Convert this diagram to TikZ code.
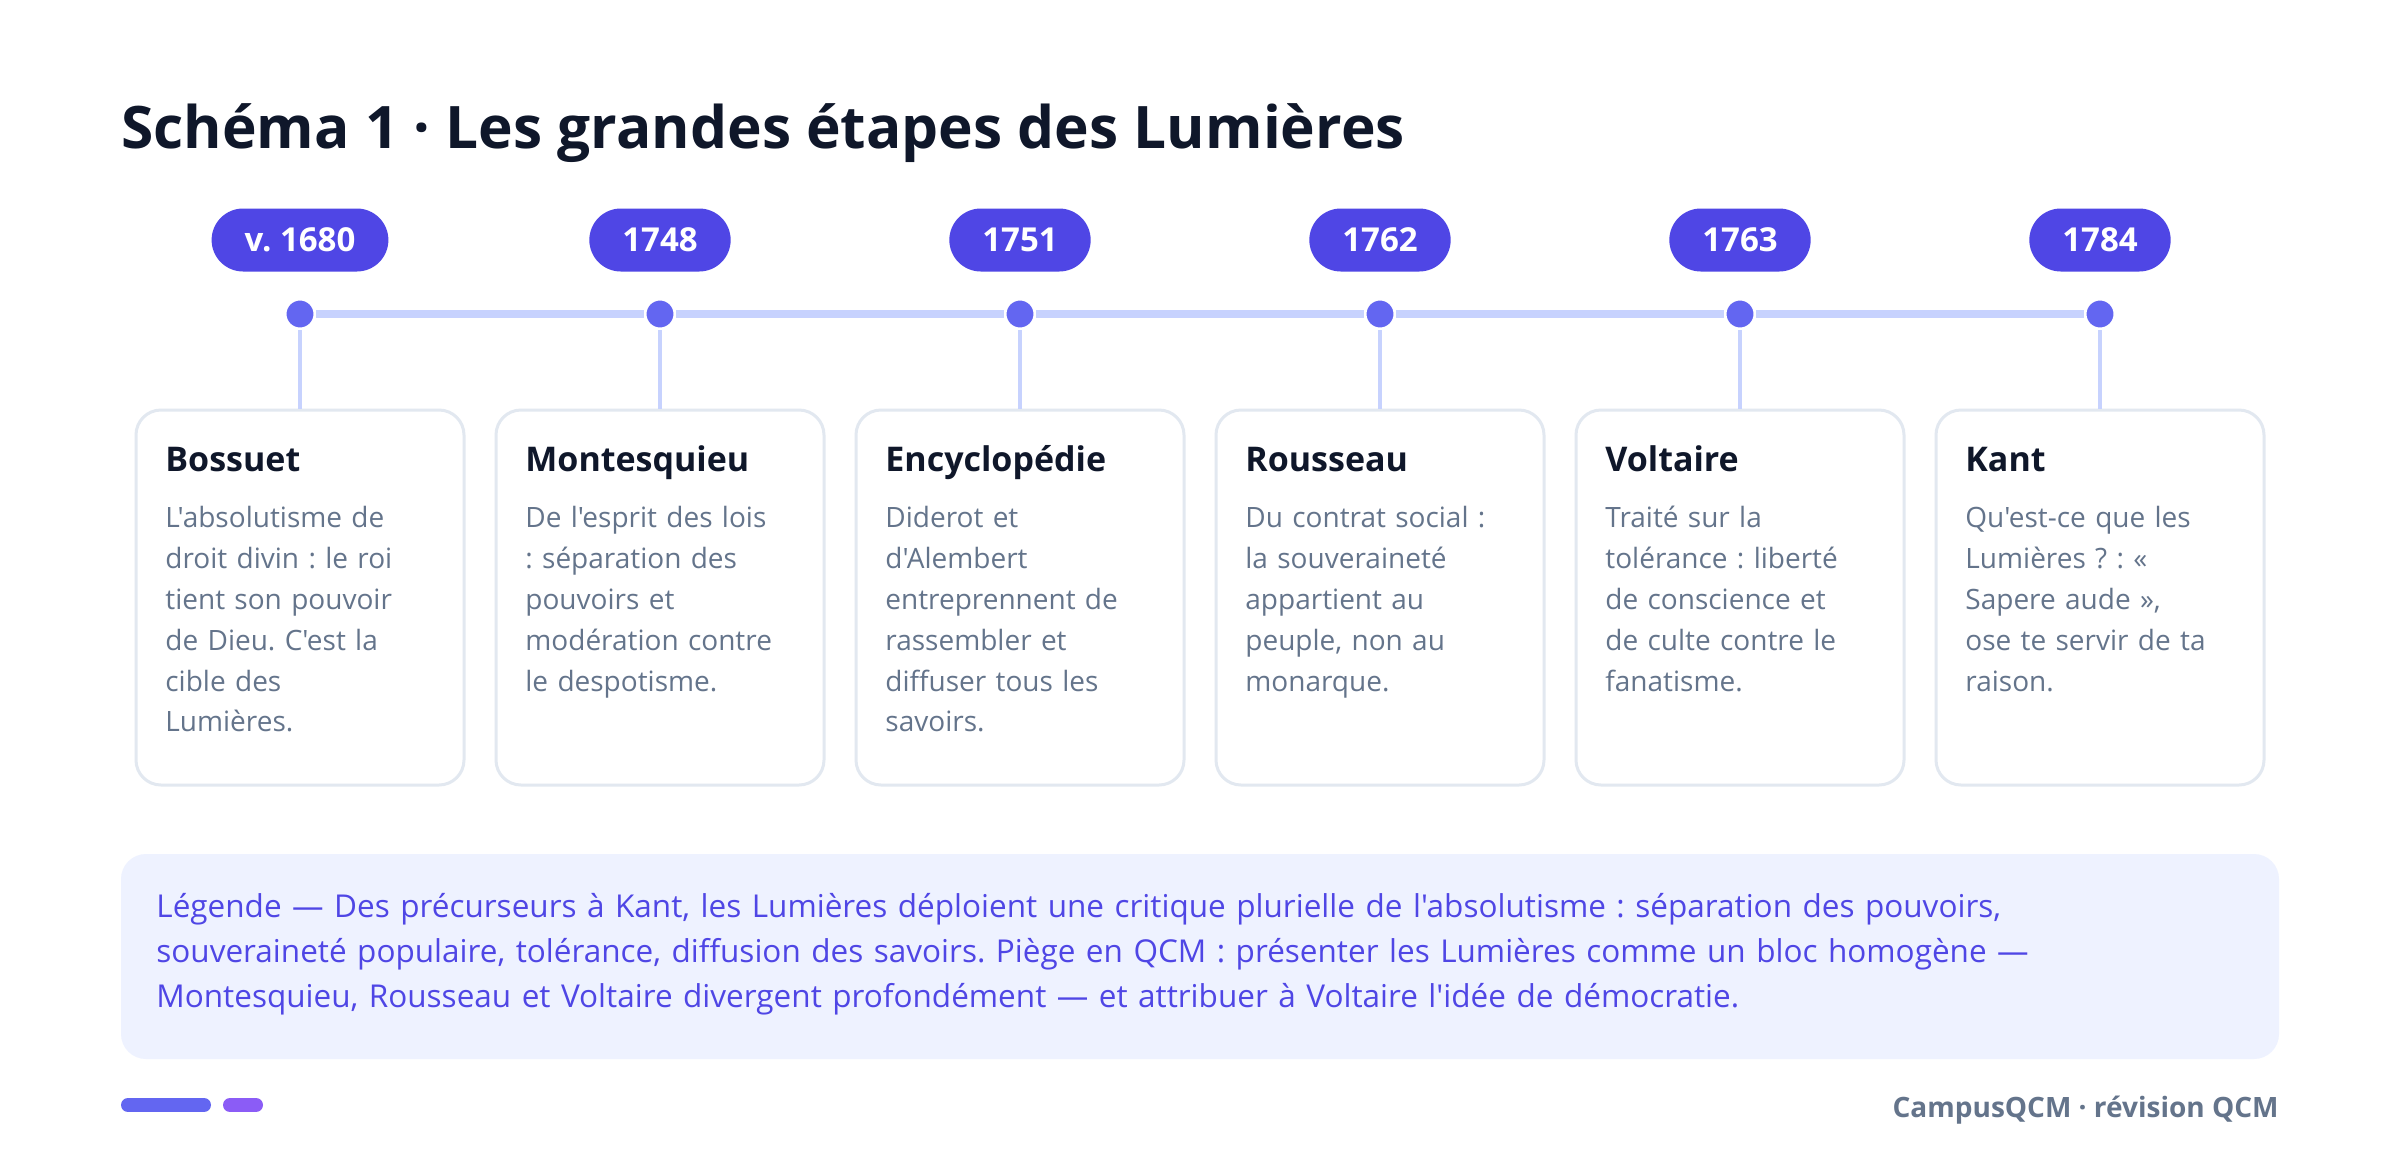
\documentclass[tikz,border=0pt]{standalone}
\usepackage{fontspec}
\setmainfont{Open Sans}[Ligatures=TeXOff]
\frenchspacing
\definecolor{ink}{HTML}{0F172A}
\definecolor{pillc}{HTML}{4F46E5}
\definecolor{dotc}{HTML}{6366F1}
\definecolor{linec}{HTML}{C7D2FE}
\definecolor{cardb}{HTML}{E2E8F0}
\definecolor{bodyc}{HTML}{64748B}
\definecolor{legbg}{HTML}{EEF2FF}
\definecolor{legtx}{HTML}{4F46E5}
\definecolor{barb}{HTML}{8B5CF6}
\begin{document}
\frenchspacing
\begin{tikzpicture}[x=0.5pt,y=-0.5pt,
  pill/.style={fill=pillc, text=white, font=\fontsize{16.5}{19}\selectfont\bfseries,
    rounded corners=15.75pt, minimum height=31.5pt, inner xsep=16.5pt, inner ysep=0pt},
  dot/.style={circle, fill=dotc, draw=white, line width=2.5pt, minimum size=16pt, inner sep=0pt, outer sep=0pt},
  tline/.style={draw=linec, line width=4pt},
  vconn/.style={draw=linec, line width=2pt},
  card/.style={draw=cardb, line width=1.5pt, fill=white, rounded corners=12.5pt,
    minimum width=164pt, minimum height=187.5pt, inner sep=0pt},
  head/.style={anchor=base west, inner sep=0pt, text=ink, font=\fontsize{17}{20}\selectfont\bfseries},
  body/.style={anchor=north west, inner sep=0pt, text=bodyc, align=left, text width=150pt,
    font=\fontsize{14}{20.4}\selectfont},
]
\useasboundingbox (0,0) rectangle (2400,1168);
\fill[white] (0,0) rectangle (2400,1168);

% title
\node[anchor=base west, inner sep=0pt, text=ink, font=\fontsize{29.3}{34}\selectfont\bfseries] (title) at (121,148)
  {Schéma 1 · Les grandes étapes des Lumières};

% pills, dots, cards
\foreach \i/\yr in {1/v. 1680, 2/1748, 3/1751, 4/1762, 5/1763, 6/1784}{
  \pgfmathsetmacro{\cx}{300+360*(\i-1)}
  \node[pill] (p\i) at (\cx,240) {\yr};
  \node[dot] (d\i) at (\cx,314) {};
  \node[card] (c\i) at (\cx,597.5) {};
}
\foreach \a/\b in {1/2,2/3,3/4,4/5,5/6}{
  \draw[tline] (d\a) -- (d\b);
}
\foreach \i in {1,...,6}{
  \draw[vconn] (d\i) -- (c\i.north);
}

% card texts
\node[head] (h1) at (165,471) {Bossuet};
\node[body] (b1) at (165,499) {\strut L'absolutisme de\\droit divin : le roi\\tient son pouvoir\\de Dieu. C'est la\\cible des\\Lumières.};
\node[head] (h2) at (525,471) {Montesquieu};
\node[body] (b2) at (525,499) {\strut De l'esprit des lois\\: séparation des\\pouvoirs et\\modération contre\\le despotisme.};
\node[head] (h3) at (885,471) {Encyclopédie};
\node[body] (b3) at (885,499) {\strut Diderot et\\d'Alembert\\entreprennent de\\rassembler et\\diffuser tous les\\savoirs.};
\node[head] (h4) at (1245,471) {Rousseau};
\node[body] (b4) at (1245,499) {\strut Du contrat social :\\la souveraineté\\appartient au\\peuple, non au\\monarque.};
\node[head] (h5) at (1605,471) {Voltaire};
\node[body] (b5) at (1605,499) {\strut Traité sur la\\tolérance : liberté\\de conscience et\\de culte contre le\\fanatisme.};
\node[head] (h6) at (1965,471) {Kant};
\node[body] (b6) at (1965,499) {\strut Qu'est-ce que les\\Lumières ? : «\\Sapere aude »,\\ose te servir de ta\\raison.};

% legend
\fill[legbg, rounded corners=12.5pt] (121,854) rectangle (2279,1059);
\node[anchor=north west, inner sep=0pt, text=legtx, align=left, text width=1060pt,
  font=\fontsize{15.75}{22.5}\selectfont] (legend) at (156,885.5)
  {\strut Légende — Des précurseurs à Kant, les Lumières déploient une critique plurielle de l'absolutisme : séparation des pouvoirs,\\souveraineté populaire, tolérance, diffusion des savoirs. Piège en QCM : présenter les Lumières comme un bloc homogène —\\Montesquieu, Rousseau et Voltaire divergent profondément — et attribuer à Voltaire l'idée de démocratie.};

% footer
\draw[dotc, line width=7pt, line cap=round] (128,1105) -- (204,1105);
\draw[barb, line width=7pt, line cap=round] (230,1105) -- (256,1105);
\node[anchor=base east, inner sep=0pt, text=bodyc, font=\fontsize{14}{17}\selectfont\bfseries] (footer) at (2279,1117)
  {CampusQCM · révision QCM};
\end{tikzpicture}
\end{document}
